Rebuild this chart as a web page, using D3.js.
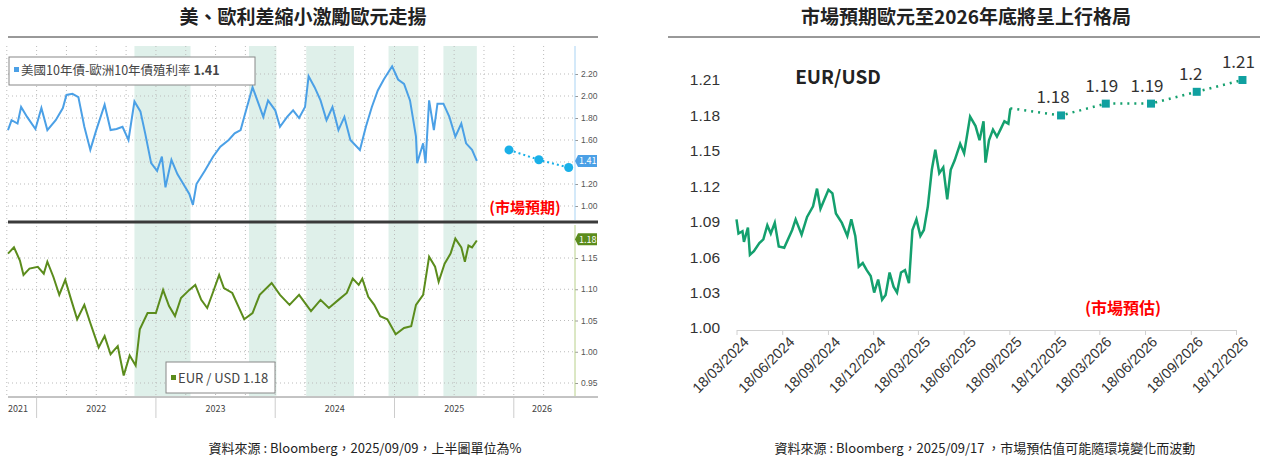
<!DOCTYPE html>
<html><head><meta charset="utf-8">
<script src="https://cdn.jsdelivr.net/npm/d3@7"></script>
<style>body{margin:0;background:#fff}svg{font-family:"Noto Sans CJK TC","Open Sans",sans-serif}</style>
</head><body><svg id="c" width="1263" height="459"></svg>
<script>
// ---- Left chart data (decimal years) ----
const spreadT=[2021.76,2021.79,2021.84,2021.87,2021.92,2021.99,2022.04,2022.09,2022.16,2022.22,2022.25,2022.30,2022.35,2022.40,2022.45,2022.50,2022.57,2022.62,2022.67,2022.72,2022.77,2022.82,2022.87,2022.91,2022.96,2023.01,2023.05,2023.08,2023.13,2023.18,2023.23,2023.28,2023.31,2023.34,2023.41,2023.48,2023.54,2023.61,2023.66,2023.71,2023.74,2023.81,2023.86,2023.90,2023.94,2024.00,2024.04,2024.10,2024.15,2024.20,2024.25,2024.28,2024.33,2024.38,2024.43,2024.48,2024.53,2024.58,2024.63,2024.71,2024.76,2024.81,2024.86,2024.91,2024.98,2025.03,2025.08,2025.13,2025.18,2025.19,2025.24,2025.26,2025.29,2025.33,2025.36,2025.41,2025.46,2025.51,2025.56,2025.60,2025.65,2025.69];
const spreadV=[1.69,1.78,1.75,1.90,1.81,1.70,1.89,1.69,1.78,1.89,2.01,2.02,1.99,1.72,1.51,1.69,1.92,1.69,1.70,1.72,1.60,1.95,1.86,1.66,1.39,1.32,1.45,1.17,1.42,1.29,1.20,1.11,1.01,1.20,1.32,1.45,1.54,1.60,1.66,1.69,1.81,2.08,1.93,1.81,1.96,1.87,1.72,1.81,1.87,1.80,1.90,2.18,2.08,1.96,1.78,1.90,1.69,1.81,1.60,1.51,1.72,1.90,2.05,2.15,2.27,2.15,2.11,1.96,1.63,1.39,1.57,1.39,1.96,1.69,1.93,1.93,1.81,1.63,1.75,1.57,1.51,1.41];
const spreadFcT=[1.96+2024,2.21+2024,2.46+2024];
const spreadFcV=[1.51,1.42,1.35];
const fxT=[2021.76,2021.81,2021.86,2021.89,2021.94,2022.01,2022.06,2022.09,2022.14,2022.19,2022.24,2022.29,2022.34,2022.40,2022.45,2022.52,2022.57,2022.62,2022.68,2022.73,2022.78,2022.83,2022.865,2022.93,2023.00,2023.06,2023.11,2023.16,2023.21,2023.28,2023.33,2023.38,2023.43,2023.48,2023.53,2023.57,2023.64,2023.69,2023.74,2023.81,2023.87,2023.97,2024.04,2024.12,2024.20,2024.30,2024.38,2024.45,2024.53,2024.60,2024.65,2024.70,2024.73,2024.78,2024.83,2024.88,2024.94,2025.01,2025.08,2025.14,2025.18,2025.24,2025.29,2025.34,2025.37,2025.42,2025.47,2025.51,2025.56,2025.59,2025.62,2025.65,2025.69];
const fxV=[1.157,1.167,1.146,1.123,1.133,1.136,1.125,1.144,1.120,1.091,1.115,1.083,1.052,1.075,1.046,1.007,1.025,0.996,1.009,0.962,0.994,0.978,1.036,1.062,1.062,1.099,1.073,1.057,1.086,1.099,1.107,1.083,1.070,1.096,1.123,1.102,1.094,1.073,1.052,1.062,1.091,1.110,1.091,1.075,1.091,1.065,1.083,1.070,1.083,1.094,1.117,1.107,1.117,1.088,1.075,1.057,1.052,1.028,1.038,1.041,1.075,1.091,1.152,1.136,1.112,1.141,1.157,1.181,1.167,1.144,1.170,1.167,1.178];
const shades=[[2022.82,2023.29],[2023.78,2024.01],[2024.26,2024.66],[2024.95,2025.20],[2025.41,2025.69]];
const years=[2021,2022,2023,2024,2025,2026];
const spreadTicks=[1.00,1.20,1.40,1.60,1.80,2.00,2.20];
const spreadTickLabels=[1.00,1.20,1.60,1.80,2.00,2.20];
const fxTicks=[0.95,1.00,1.05,1.10,1.15];
// ---- Right chart data ----
const rStart="2024-03-18";
const rDays=[0,4,12,15,23,27,35,46,54,62,69,77,85,96,112,119,131,142,154,162,169,177,185,193,200,212,223,231,239,246,254,262,270,277,285,293,300,308,316,323,331,339,347,354,362,370,377,385,393,400,408,416,424,431,439,450,458,470,481,489,497,501,508,516,524,531,539,547,551];
const rVals=[1.092,1.080,1.082,1.073,1.085,1.062,1.065,1.072,1.075,1.087,1.080,1.089,1.069,1.068,1.083,1.092,1.079,1.094,1.103,1.118,1.101,1.109,1.117,1.114,1.097,1.089,1.078,1.092,1.078,1.052,1.055,1.049,1.044,1.030,1.041,1.024,1.028,1.047,1.035,1.030,1.047,1.049,1.038,1.083,1.092,1.078,1.083,1.103,1.134,1.151,1.131,1.136,1.109,1.134,1.142,1.156,1.148,1.179,1.171,1.159,1.175,1.140,1.159,1.168,1.162,1.168,1.175,1.173,1.186];
const fcDates=["2025-12-31","2026-03-31","2026-06-30","2026-09-30","2026-12-31"];
const fcVals=[1.18,1.19,1.19,1.20,1.21];
const fcLabels=["1.18","1.19","1.19","1.2","1.21"];
const rTickDates=["2024-03-18","2024-06-18","2024-09-18","2024-12-18","2025-03-18","2025-06-18","2025-09-18","2025-12-18","2026-03-18","2026-06-18","2026-09-18","2026-12-18"];
const rYTicks=[1.00,1.03,1.06,1.09,1.12,1.15,1.18,1.21];

const svg=d3.select("#c");
svg.append("text").attr("x",303).attr("y",24).attr("text-anchor","middle").attr("font-size",19).attr("font-weight","bold").attr("fill","#222").text("美、歐利差縮小激勵歐元走揚");
svg.append("text").attr("x",966).attr("y",24).attr("text-anchor","middle").attr("font-size",19).attr("font-weight","bold").attr("fill","#222").text("市場預期歐元至2026年底將呈上行格局");
svg.append("line").attr("x1",8).attr("x2",598).attr("y1",37).attr("y2",37).attr("stroke","#333");
svg.append("line").attr("x1",668).attr("x2",1260).attr("y1",37).attr("y2",37).attr("stroke","#333");
svg.append("text").attr("x",365).attr("y",453).attr("text-anchor","middle").attr("font-size",13).attr("fill","#222").text("資料來源 : Bloomberg，2025/09/09，上半圖單位為%");
svg.append("text").attr("x",985).attr("y",453).attr("text-anchor","middle").attr("font-size",13).attr("fill","#222").text("資料來源 : Bloomberg，2025/09/17 ，市場預估值可能隨環境變化而波動");

// ---- Left ----
const L=svg.append("g");
const xL=d3.scaleLinear().domain([2021.693,2026.513]).range([0,575]);
const yT=d3.scaleLinear().domain([1.0,2.2]).range([206,74]);
const yB=d3.scaleLinear().domain([0.95,1.15]).range([383,258]);
L.append("rect").attr("x",8).attr("y",46).attr("width",567).attr("height",350).attr("fill","#fff");
shades.forEach(s=>L.append("rect").attr("x",xL(s[0])).attr("width",xL(s[1])-xL(s[0])).attr("y",46).attr("height",350).attr("fill","#dff0ea"));
const qs=d3.range(2021.75,2026.5,0.25);
qs.forEach(q=>L.append("line").attr("x1",xL(q)).attr("x2",xL(q)).attr("y1",46).attr("y2",396).attr("stroke","#bbb").attr("stroke-dasharray","1,3"));
spreadTicks.forEach(v=>L.append("line").attr("x1",8).attr("x2",575).attr("y1",yT(v)).attr("y2",yT(v)).attr("stroke","#bbb").attr("stroke-dasharray","1,3"));
fxTicks.forEach(v=>L.append("line").attr("x1",8).attr("x2",575).attr("y1",yB(v)).attr("y2",yB(v)).attr("stroke","#bbb").attr("stroke-dasharray","1,3"));
const aT=L.append("g").attr("transform","translate(575,0)").call(d3.axisRight(yT).tickValues(spreadTickLabels).tickFormat(d3.format(".2f")).tickSize(3));
const aB=L.append("g").attr("transform","translate(575,0)").call(d3.axisRight(yB).tickValues(fxTicks).tickFormat(d3.format(".2f")).tickSize(3));
[aT,aB].forEach(a=>{a.select(".domain").remove();a.selectAll("text").attr("font-size",8.5).attr("fill","#555");a.selectAll("line").attr("stroke","#999");});
L.append("line").attr("x1",575).attr("x2",575).attr("y1",46).attr("y2",220).attr("stroke","#a9d3f3");
L.append("line").attr("x1",575).attr("x2",575).attr("y1",225).attr("y2",396).attr("stroke","#b8d08a");
L.append("path").datum(spreadT.map((t,i)=>[t,spreadV[i]])).attr("d",d3.line().x(d=>xL(d[0])).y(d=>yT(d[1]))).attr("fill","none").attr("stroke","#4ba0e6").attr("stroke-width",2);
const fcS=spreadFcT.map((t,i)=>[t,spreadFcV[i]]);
L.append("path").datum(fcS).attr("d",d3.line().x(d=>xL(d[0])).y(d=>yT(d[1]))).attr("fill","none").attr("stroke","#1ab0e8").attr("stroke-width",2).attr("stroke-dasharray","2,3");
L.selectAll(".fd").data(fcS).join("circle").attr("cx",d=>xL(d[0])).attr("cy",d=>yT(d[1])).attr("r",4.5).attr("fill","#1ab0e8");
L.append("path").datum(fxT.map((t,i)=>[t,fxV[i]])).attr("d",d3.line().x(d=>xL(d[0])).y(d=>yB(d[1]))).attr("fill","none").attr("stroke","#5b8c1c").attr("stroke-width",2);
L.append("rect").attr("x",8).attr("y",220.5).attr("width",590).attr("height",3).attr("fill","#3a3a3a");
L.append("path").attr("d",`M575,${yT(1.41)}l3,-6h19v12h-19z`).attr("fill","#4ba0e6");
L.append("text").attr("x",579).attr("y",yT(1.41)+3.5).attr("font-size",9).attr("fill","#fff").text("1.41");
L.append("path").attr("d",`M575,${yB(1.18)}l3,-6h19v12h-19z`).attr("fill","#5b8c1c");
L.append("text").attr("x",579).attr("y",yB(1.18)+3.5).attr("font-size",9).attr("fill","#fff").text("1.18");
L.append("rect").attr("x",9).attr("y",57).attr("width",246).attr("height",28).attr("fill","#fff").attr("stroke","#888");
L.append("rect").attr("x",14).attr("y",67).attr("width",5).attr("height",5).attr("fill","#4ba0e6");
L.append("text").attr("x",21).attr("y",75).attr("font-size",12.5).attr("fill","#444").text("美國10年債-歐洲10年債殖利率 ").append("tspan").attr("font-weight","bold").text("1.41");
L.append("rect").attr("x",166).attr("y",362).attr("width",109).attr("height",31).attr("fill","#fff").attr("stroke","#888");
L.append("rect").attr("x",171).attr("y",375).attr("width",5).attr("height",5).attr("fill","#5b8c1c");
L.append("text").attr("x",178).attr("y",383).attr("font-size",13).attr("fill","#444").text("EUR / USD 1.18");
L.append("text").attr("x",525).attr("y",213).attr("text-anchor","middle").attr("font-size",15).attr("font-weight","bold").attr("fill","#f00").text("(市場預期)");
L.append("line").attr("x1",8).attr("x2",598).attr("y1",397).attr("y2",397).attr("stroke","#888");
years.slice(1).forEach(y=>L.append("line").attr("x1",xL(y)).attr("x2",xL(y)).attr("y1",398).attr("y2",418).attr("stroke","#ccc"));
years.forEach(y=>L.append("text").attr("x",y===2021?18:Math.min(xL(y+0.5),542)).attr("y",412).attr("text-anchor","middle").attr("font-size",9).attr("fill","#444").text(y));

// ---- Right ----
const R=svg.append("g");
const pd=d3.timeParse("%Y-%m-%d");
const t0=pd(rStart);
const xR=d3.scaleTime().domain([pd(rTickDates[0]),pd(rTickDates[11])]).range([736.5,1236]);
const yR=d3.scaleLinear().domain([1.00,1.21]).range([328,80]);
const ax=R.append("g").attr("transform","translate(0,330)").call(d3.axisBottom(xR).tickValues(rTickDates.map(pd)).tickFormat(d3.timeFormat("%d/%m/%Y")).tickSize(5).tickSizeOuter(0));
ax.select(".domain").attr("stroke","#d0d0d0");ax.selectAll("line").attr("stroke","#d0d0d0");
ax.selectAll("text").attr("font-size",14.5).attr("fill","#333").attr("text-anchor","end").attr("transform","translate(4,4) rotate(-45)").attr("dy","0.3em");
const ay=R.append("g").attr("transform","translate(722,0)").call(d3.axisLeft(yR).tickValues(rYTicks).tickFormat(d3.format(".2f")).tickSize(0));
ay.select(".domain").remove();ay.selectAll("text").attr("font-size",15.5).attr("fill","#333").attr("x",-2);
const hist=rDays.map((d,i)=>[d3.timeDay.offset(t0,d),rVals[i]]);
R.append("path").datum(hist).attr("d",d3.line().x(d=>xR(d[0])).y(d=>yR(d[1]))).attr("fill","none").attr("stroke","#14a06e").attr("stroke-width",2.5);
const fc=[hist[hist.length-1]].concat(fcDates.map((d,i)=>[pd(d),fcVals[i]]));
R.append("path").datum(fc).attr("d",d3.line().x(d=>xR(d[0])).y(d=>yR(d[1]))).attr("fill","none").attr("stroke","#14a06e").attr("stroke-width",2.5).attr("stroke-dasharray","2,5");
fc.slice(1).forEach((d,i)=>{
  R.append("rect").attr("x",xR(d[0])-4).attr("y",yR(d[1])-4).attr("width",8).attr("height",8).attr("fill","#10a0a0");
  R.append("text").attr("x",xR(d[0])+(i==0?-8:(i==3?-6:-4))).attr("y",yR(d[1])-12).attr("text-anchor","middle").attr("font-size",17).attr("fill","#333").text(fcLabels[i]);
});
R.append("text").attr("x",838).attr("y",84).attr("text-anchor","middle").attr("font-size",19).attr("font-weight","bold").attr("fill","#222").text("EUR/USD");
R.append("text").attr("x",1123).attr("y",314).attr("text-anchor","middle").attr("font-size",16).attr("font-weight","bold").attr("fill","#f00").text("(市場預估)");
</script></body></html>
